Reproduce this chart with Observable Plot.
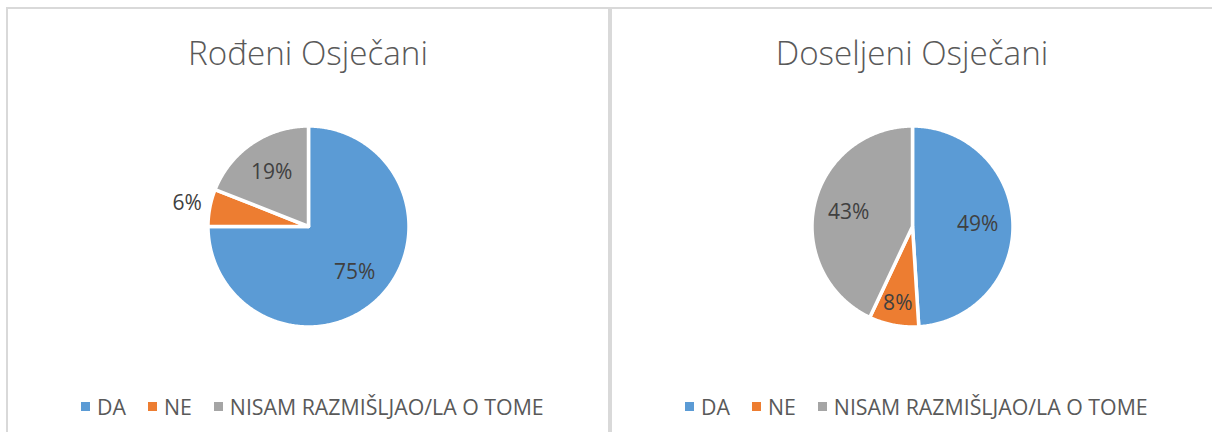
<!DOCTYPE html>
<html><head><meta charset="utf-8">
<script src="https://cdn.jsdelivr.net/npm/d3@7"></script>
<script src="https://cdn.jsdelivr.net/npm/@observablehq/plot@0.6"></script>
<style>
html,body{margin:0;padding:0;background:#fff;}
body{width:1212px;height:432px;overflow:hidden;position:relative;font-family:"Open Sans",sans-serif;}
.panel{position:absolute;top:7px;height:470px;border:2px solid #d9d9d9;box-sizing:border-box;}
.title{position:absolute;color:#595959;font-weight:300;white-space:nowrap;line-height:1;}
.legend{position:absolute;display:flex;align-items:center;color:#595959;white-space:nowrap;line-height:1;}
.sw{width:9px;height:9px;display:inline-block;margin-right:7px;}
.item{display:flex;align-items:center;margin-right:22px;}
.chart{position:absolute;}
</style></head><body>
<script>
// ---- data ----
const categories = ["DA", "NE", "NISAM RAZMIŠLJAO/LA O TOME"];
const colors = ["#5B9BD5", "#ED7D31", "#A5A5A5"];
const chartTitles = ["Rođeni Osječani", "Doseljeni Osječani"];
const rodeniValues = [75, 6, 19];
const doseljeniValues = [49, 8, 43];
const seriesList = [rodeniValues, doseljeniValues];

// ---- layout ----
const panelLeft = [6, 610], panelWidth = [604, 620];
const centerX = [308, 912], centerY = 226;
const R = 100.5;            // pixel radius incl. white border
const W = 600, H = 280;

function pieChart(values) {
  const arcs = d3.pie().sort(null).value(d => d)(values);
  const total = d3.sum(values);
  const pts = [];
  arcs.forEach((a, i) => {
    pts.push({cat: categories[i], x: 0, y: 0});
    const n = Math.max(2, Math.ceil((a.endAngle - a.startAngle) / 0.01));
    for (let k = 0; k <= n; k++) {
      const t = a.startAngle + (a.endAngle - a.startAngle) * k / n;
      pts.push({cat: categories[i], x: Math.sin(t), y: Math.cos(t)});
    }
  });
  const labels = arcs.map((a) => {
    const share = a.value / total;
    const m = (a.startAngle + a.endAngle) / 2;
    const r = share < 0.07 ? 1.23 : share < 0.1 ? 0.78 : 0.65;
    return {x: r * Math.sin(m), y: r * Math.cos(m), text: Math.round(share * 100) + "%"};
  });
  return Plot.plot({
    width: W, height: H,
    marginLeft: W / 2 - R, marginRight: W / 2 - R,
    marginTop: H / 2 - R, marginBottom: H / 2 - R,
    style: {fontFamily: "'Open Sans', sans-serif", background: "transparent", overflow: "visible"},
    x: {domain: [-1, 1], axis: null},
    y: {domain: [-1, 1], axis: null},
    color: {domain: categories, range: colors},
    marks: [
      Plot.line(pts, {x: "x", y: "y", z: "cat", fill: "cat", stroke: "white", strokeWidth: 3.5,
        strokeLinejoin: "round", curve: "linear-closed"}),
      Plot.text(labels, {x: "x", y: "y", text: "text", fill: "#404040", fontSize: 21})
    ]
  });
}

function fit(el, target) {
  const w = el.getBoundingClientRect().width;
  const s = parseFloat(getComputedStyle(el).fontSize);
  return s * target / w;
}

const titleEls = [], legendTexts = [], legendEls = [];
seriesList.forEach((vals, p) => {
  const panel = document.createElement("div");
  panel.className = "panel";
  panel.style.left = panelLeft[p] + "px";
  panel.style.width = panelWidth[p] + "px";
  document.body.appendChild(panel);

  const svg = pieChart(vals);
  svg.classList.add("chart");
  svg.style.left = (centerX[p] - W / 2) + "px";
  svg.style.top = (centerY - H / 2) + "px";
  document.body.appendChild(svg);

  const t = document.createElement("div");
  t.className = "title";
  t.textContent = chartTitles[p];
  t.style.fontSize = "32px";
  document.body.appendChild(t);
  titleEls.push(t);

  const lg = document.createElement("div");
  lg.className = "legend";
  categories.forEach((c, i) => {
    const it = document.createElement("div");
    it.className = "item";
    const sw = document.createElement("span");
    sw.className = "sw";
    sw.style.background = colors[i];
    const tx = document.createElement("span");
    tx.textContent = c;
    it.appendChild(sw); it.appendChild(tx);
    lg.appendChild(it);
    if (i === categories.length - 1) legendTexts.push(tx);
  });
  lg.style.fontSize = "21px";
  document.body.appendChild(lg);
  legendEls.push(lg);
});

// fit font sizes to the reference text widths
const titleSize = fit(titleEls[0], 240);
const legendSize = fit(legendTexts[0], 314);
titleEls.forEach((t, p) => {
  t.style.fontSize = titleSize + "px";
  const w = t.getBoundingClientRect().width;
  t.style.left = (centerX[p] - w / 2) + "px";
  t.style.top = (65 - 0.888 * titleSize) + "px";
});
legendEls.forEach((lg, p) => {
  lg.style.fontSize = legendSize + "px";
  lg.style.left = (81 + p * 604) + "px";
  lg.style.top = (415 - 0.888 * legendSize) + "px";
});
</script>
</body></html>
